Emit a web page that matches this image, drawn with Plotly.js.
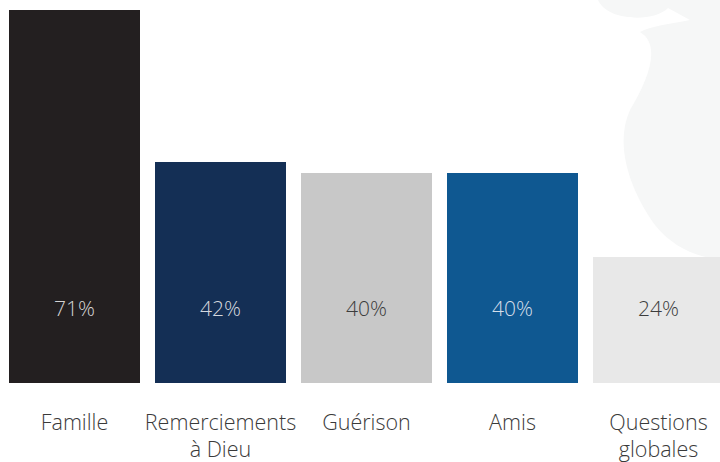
<!DOCTYPE html>
<html><head><meta charset="utf-8">
<script src="https://cdn.plot.ly/plotly-3.0.1.min.js"></script>
<style>html,body{margin:0;padding:0;background:#fff}#chart{width:720px;height:462px}</style>
</head><body><div id="chart"></div>
<script>
const categories = ["Famille", "Remerciements<br>à Dieu", "Guérison", "Amis", "Questions<br>globales"];
const values = [71, 42, 40, 40, 24];
const barColors = ["#231f20", "#142f55", "#c8c8c8", "#0f5891", "#e8e8e8"];
const valueTextColors = ["#d4d4d4", "#d4d8de", "#3c3c3c", "#d4dee9", "#3c3c3c"];
const labelY = 13.8;

const W = 720, PH = 383;
function px(pathPts){ // convert pixel path to paper coords
  return pathPts.replace(/(-?\d+\.?\d*),(-?\d+\.?\d*)/g, (m,x,y)=> (x/W).toFixed(4)+','+(1-y/PH).toFixed(4));
}
const bgPath = px("M 598,0 C 608,22 655,22 668,8 L 690,20 C 670,24 650,26 640,32 C 662,45 648,80 630,110 C 614,145 630,190 655,225 C 675,250 700,257 720,260 L 720,0 Z");

const traces = [
  {type:'bar', x:categories, y:values, marker:{color:barColors, line:{width:0}}, width:0.897, hoverinfo:'skip'},
  {type:'scatter', mode:'text', x:categories, y:categories.map(()=>labelY),
   text: values.map(v=>v+'%'), textposition:'middle center',
   textfont:{family:'"Open Sans", sans-serif', size:21, color:valueTextColors, weight:300}, hoverinfo:'skip'}
];
const layout = {
  width:720, height:462, margin:{l:0, r:0, t:0, b:79},
  paper_bgcolor:'#ffffff', plot_bgcolor:'rgba(0,0,0,0)',
  showlegend:false, bargap:0,
  xaxis:{type:'category', range:[-0.51, 4.421], showgrid:false, zeroline:false, showline:false,
    ticks:'', ticklabelstandoff:24, tickfont:{family:'"Open Sans", sans-serif', size:21.5, color:'#3a3a3a', weight:300}},
  yaxis:{range:[0, 72.9], visible:false, showgrid:false, zeroline:false},
  shapes:[{type:'path', xref:'paper', yref:'paper', path:bgPath, fillcolor:'#f6f7f7', line:{width:0}, layer:'below'}]
};
Plotly.newPlot('chart', traces, layout, {staticPlot:true, displayModeBar:false});
</script></body></html>
